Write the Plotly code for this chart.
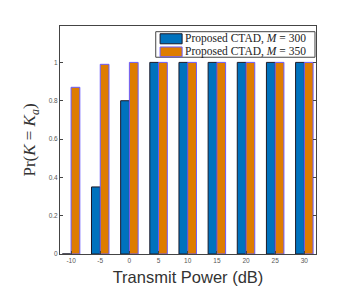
import plotly.graph_objects as go

categories = ["-10", "-5", "0", "5", "10", "15", "20", "25", "30"]
m300 = [0.0, 0.35, 0.80, 1.0, 1.0, 1.0, 1.0, 1.0, 1.0]
m350 = [0.87, 0.99, 1.0, 1.0, 1.0, 1.0, 1.0, 1.0, 1.0]
series_names = ["Proposed CTAD, <i>M</i> = 300", "Proposed CTAD, <i>M</i> = 350"]
yticks = [0, 0.2, 0.4, 0.6, 0.8, 1]
ytick_labels = ["0", "0.2", "0.4", "0.6", "0.8", "1"]

colors = ["#0072BD", "#DE7C00"]
edges = ["#1a1a2a", "#6a5cff"]

fig = go.Figure()
for vals, name, c, e in zip([m300, m350], series_names, colors, edges):
    fig.add_trace(go.Bar(x=categories, y=vals, name=name,
                         marker=dict(color=c, line=dict(color=e, width=1))))

# manual compact legend (paper coords)
fig.add_shape(type="rect", xref="paper", yref="paper",
              x0=0.374, x1=0.996, y0=0.863, y1=0.975,
              fillcolor="white", line=dict(color="#444", width=1), layer="above")
rows = [(0.922, 0.966, 0.944), (0.865, 0.908, 0.886)]
for (y0, y1, yc), name, c, e in zip(rows, series_names, colors, edges):
    fig.add_shape(type="rect", xref="paper", yref="paper",
                  x0=0.391, x1=0.477, y0=y0, y1=y1,
                  fillcolor=c, line=dict(color=e, width=1), layer="above")
    fig.add_annotation(xref="paper", yref="paper", x=0.482, y=yc,
                       text=name, showarrow=False, xanchor="left", yanchor="middle",
                       font=dict(family="Liberation Serif, serif", size=11.5, color="#222"))

fig.update_layout(
    width=341, height=286,
    margin=dict(l=52, r=33, t=18, b=40),
    paper_bgcolor="white", plot_bgcolor="white",
    barmode="group", bargap=0.4, bargroupgap=0.0,
    showlegend=False,
    xaxis=dict(type="category", range=[-0.38, 8.4],
               showline=True, linecolor="#444", linewidth=1, mirror=True,
               ticks="inside", ticklen=3, tickcolor="#444",
               tickfont=dict(family="Liberation Sans, Arial", size=6.5, color="#555"),
               title=dict(text="Transmit Power (dB)", standoff=8,
                          font=dict(family="Liberation Sans, Arial", size=16.5, color="#333")),
               showgrid=False, zeroline=False),
    yaxis=dict(range=[0, 1.19], tickvals=yticks, ticktext=ytick_labels,
               showline=True, linecolor="#444", linewidth=1, mirror="ticks",
               ticks="inside", ticklen=3, tickcolor="#444",
               tickfont=dict(family="Liberation Sans, Arial", size=6.5, color="#555"),
               title=dict(text="Pr(<i>K</i> = <i>K<sub>a</sub></i>)", standoff=8,
                          font=dict(family="Liberation Serif, serif", size=17, color="#333")),
               showgrid=False, zeroline=False),
)

fig.write_html("out.html")
